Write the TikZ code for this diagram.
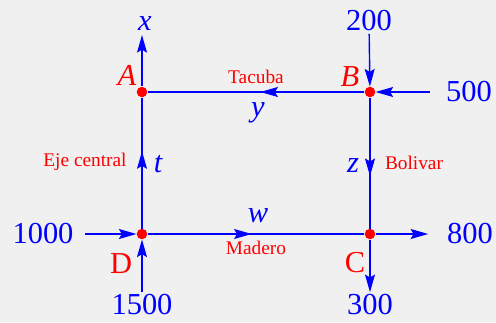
\documentclass[tikz,border=0pt]{standalone}
\usepackage{fontspec}
\setmainfont{Liberation Serif}
\usetikzlibrary{arrows.meta,decorations.markings}
\definecolor{bgcol}{HTML}{F0F0F0}
\newcommand{\bigsize}{\fontsize{26}{31}\selectfont}
\tikzset{
  flowhead/.tip={Stealth[length=15pt, width=8.5pt, inset=2.5pt]},
  flow/line/.style={draw=blue, line width=1.2pt},
  flow/in/.style={flow/line, -{flowhead}},
  flow/mid/.style={
    flow/line,
    postaction={decorate},
    decoration={markings, mark=at position #1 with {\arrow[blue]{flowhead}}}
  },
  flow/junc/.style={circle, fill=red, inner sep=0pt, minimum size=9pt},
  flow/num/.style={text=blue, font=\bigsize, inner sep=2pt},
  flow/var/.style={text=blue, font=\bigsize\itshape, inner sep=1pt},
  flow/corner/.style={text=red, font=\bigsize, inner sep=1pt},
  flow/street/.style={text=red, font=\fontsize{16.5}{19}\selectfont, inner sep=1pt}
}

\begin{document}
\begin{tikzpicture}[x=0.03cm, y=-0.03cm]

\fill[bgcol] (0,0) rectangle (496,322);
\useasboundingbox (0,0) rectangle (496,322);

% --- junctions
\node[flow/junc] (A) at (142,92) {};
\node[flow/junc] (B) at (370,92) {};
\node[flow/junc] (C) at (370,234) {};
\node[flow/junc] (D) at (142,234) {};

\node[flow/corner, font=\bigsize\itshape] (lA) at (127,75) {A};
\node[flow/corner, font=\bigsize\itshape] (lB) at (350,77) {B};
\node[flow/corner] (lC) at (355,263) {C};
\node[flow/corner] (lD) at (121,264) {D};

% --- outer flows
\node[flow/num] (n200)  at (369,21)  {200};
\node[flow/num] (n500)  at (469,92)  {500};
\node[flow/num] (n1000) at (43,234)  {1000};
\node[flow/num] (n1500) at (142,305) {1500};
\node[flow/num] (n300)  at (370,305) {300};
\node[flow/num] (n800)  at (470,234) {800};

% --- unknowns
\node[flow/var] (vx) at (145,24)  {x};
\node[flow/var] (vy) at (258,113) {y};
\node[flow/var] (vt) at (158,164) {t};
\node[flow/var] (vz) at (353,166) {z};
\node[flow/var] (vw) at (258,216) {w};
\coordinate (xtip) at (142,35);

% --- streets
\node[flow/street] (sTac) at (256,77)  {Tacuba};
\node[flow/street] (sEje) at (85,162)  {Eje central};
\node[flow/street] (sBol) at (414,163) {Bolivar};
\node[flow/street] (sMad) at (256,248) {Madero};

% --- inner streets
\draw[flow/mid=0.48] (B) -- (A);
\draw[flow/mid=0.59] (D) -- (A);
\draw[flow/mid=0.60] (B) -- (C);
\draw[flow/mid=0.48] (D) -- (C);

% --- entering and leaving
\draw[flow/in] (n200) -- (B);
\draw[flow/in, shorten <=12pt] (n500) -- (B);
\draw[flow/in, shorten <=8pt] (n1000) -- (D);
\draw[flow/in] (n1500) -- (D);
\draw[flow/in] (A) -- (xtip);
\draw[flow/in] (C) -- (n300);
\draw[flow/in, shorten >=14pt] (C) -- (n800);

\end{tikzpicture}
\end{document}
